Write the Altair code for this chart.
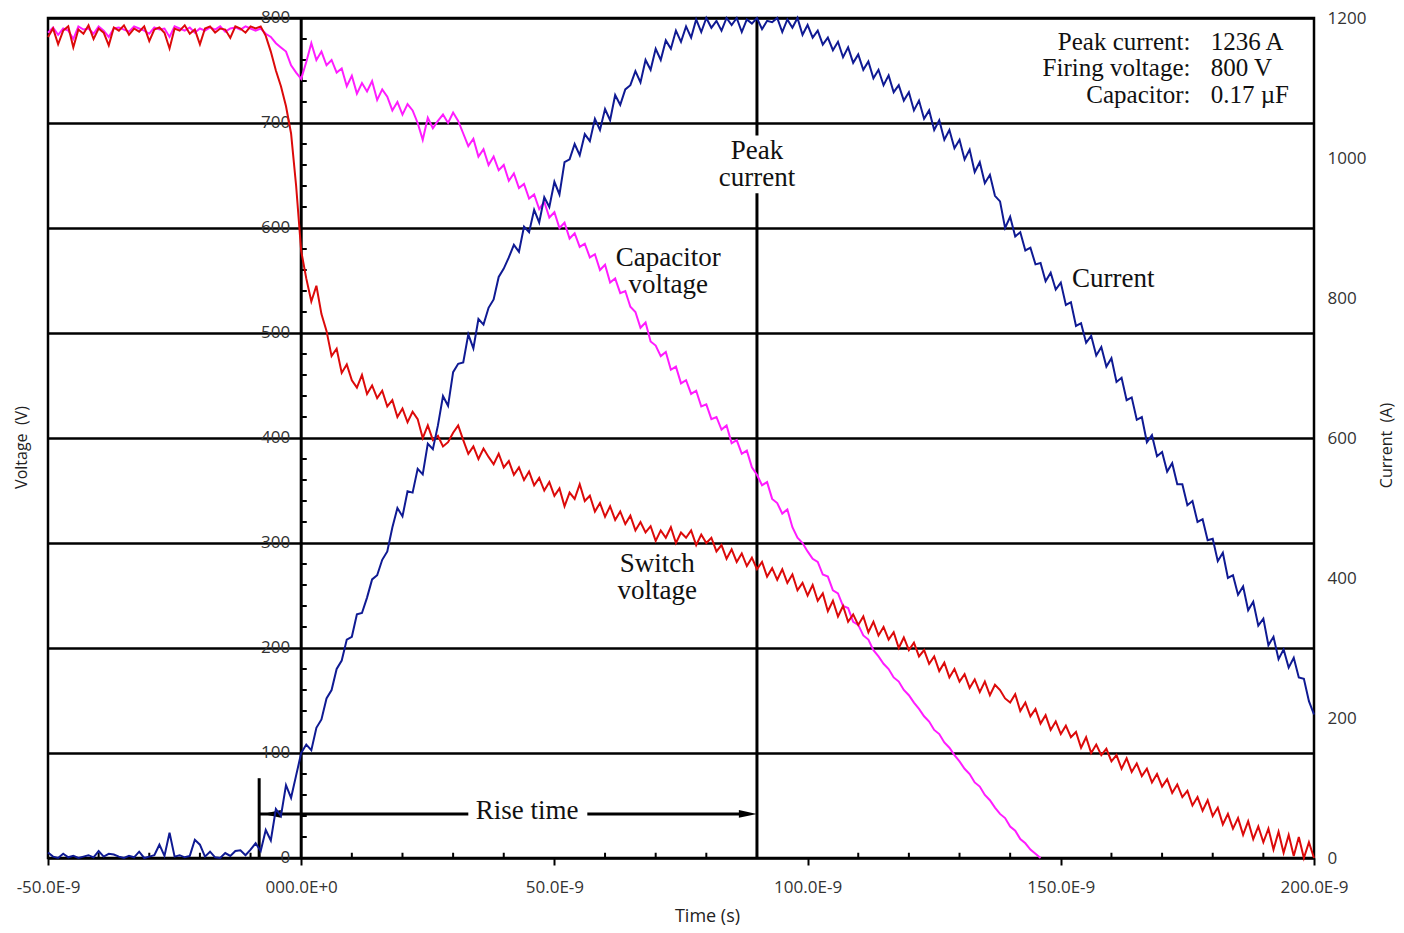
import altair as alt
import pandas as pd

# ---------------- data ----------------
time_ns = list(range(-50, 201))        # sample times, ns
cap_time_ns = list(range(-50, 147))    # capacitor trace ends at ~146 ns

current_A = [
    8, 2, 0, 6, 1, 3, 0, 2, 4, 1,
    10, 2, 6, 5, 2, 0, 3, 1, 9, 0,
    2, 4, 19, 3, 36, 2, 4, 1, 3, 26,
    19, 2, 9, 1, 0, 7, 3, 10, 11, 4,
    12, 21, 10, 40, 25, 70, 60, 104, 86, 118,
    150, 162, 154, 186, 198, 228, 240, 270, 282, 312,
    316, 348, 350, 372, 398, 404, 426, 438, 472, 500,
    488, 524, 522, 556, 548, 592, 584, 618, 660, 646,
    694, 706, 708, 748, 728, 770, 762, 786, 798, 830,
    842, 858, 876, 866, 902, 894, 926, 908, 944, 930,
    966, 948, 994, 998, 1020, 1004, 1034, 1024, 1056, 1040,
    1070, 1054, 1090, 1076, 1098, 1104, 1124, 1108, 1140, 1126,
    1156, 1140, 1168, 1156, 1182, 1166, 1188, 1172, 1198, 1180,
    1200, 1186, 1196, 1182, 1200, 1190, 1200, 1180, 1198, 1192,
    1200, 1184, 1196, 1194, 1200, 1180, 1198, 1186, 1200, 1176,
    1190, 1172, 1182, 1162, 1172, 1154, 1166, 1144, 1158, 1136,
    1148, 1126, 1138, 1114, 1126, 1104, 1118, 1094, 1104, 1082,
    1094, 1068, 1082, 1056, 1068, 1040, 1054, 1026, 1040, 1014,
    1026, 998, 1012, 980, 994, 964, 976, 946, 938, 900,
    916, 888, 894, 868, 872, 848, 850, 824, 836, 812,
    822, 790, 794, 760, 764, 736, 746, 718, 730, 702,
    714, 680, 686, 654, 658, 626, 630, 594, 604, 574,
    580, 552, 564, 534, 534, 504, 510, 480, 484, 454,
    456, 424, 436, 400, 404, 376, 388, 354, 366, 332,
    342, 304, 316, 284, 298, 272, 286, 258, 256, 224,
    205,
]

switch_V = [
    782, 790, 775, 788, 792, 772, 789, 785, 793, 780,
    790, 786, 774, 791, 788, 793, 784, 790, 787, 792,
    778, 789, 791, 786, 771, 790, 788, 793, 785, 789,
    775, 790, 792, 786, 790, 789, 781, 792, 790, 786,
    792, 790, 792, 783, 768, 750, 735, 716, 690, 640,
    578, 552, 530, 545, 518, 502, 478, 485, 462, 470,
    455, 448, 460, 442, 450, 438, 445, 430, 436, 420,
    428, 415, 425, 418, 400, 412, 398, 402, 392, 396,
    405, 412, 398, 385, 392, 380, 390, 382, 375, 385,
    372, 378, 365, 372, 360, 368, 355, 362, 350, 358,
    345, 352, 335, 348, 342, 356, 340, 345, 330, 338,
    325, 335, 322, 330, 318, 326, 312, 320, 310, 316,
    302, 312, 305, 315, 300, 310, 305, 312, 298, 308,
    300, 305, 292, 298, 285, 294, 282, 290, 278, 286,
    275, 282, 268, 276, 265, 275, 262, 270, 255, 262,
    250, 260, 245, 252, 235, 245, 230, 240, 225, 232,
    222, 230, 215, 225, 212, 220, 208, 215, 200, 210,
    198, 205, 192, 198, 185, 192, 178, 186, 172, 180,
    168, 175, 162, 170, 158, 168, 155, 165, 160, 152,
    148, 156, 140, 148, 135, 142, 128, 136, 122, 130,
    118, 126, 115, 120, 105, 115, 100, 108, 98, 104,
    92, 98, 85, 95, 82, 90, 78, 85, 72, 80,
    68, 75, 62, 70, 58, 64, 50, 58, 45, 55,
    40, 48, 32, 42, 28, 38, 22, 35, 18, 30,
    15, 28, 8, 25, 5, 22, 2, 20, 0, 15,
    0,
]

capacitor_V = [
    786, 791, 784, 790, 788, 780, 792, 789, 790, 785,
    792, 788, 782, 790, 791, 789, 787, 792, 790, 788,
    785, 791, 789, 790, 782, 792, 790, 788, 791, 786,
    790, 788, 791, 789, 792, 787, 790, 791, 789, 792,
    790, 788, 790, 785, 782, 776, 772, 768, 755, 748,
    742, 758, 776, 760, 768, 755, 760, 748, 752, 735,
    745, 728, 738, 730, 740, 722, 732, 725, 712, 720,
    708, 718, 712, 700, 684, 705, 695, 702, 708, 700,
    710, 702, 690, 678, 685, 668, 675, 660, 668, 655,
    660, 645, 652, 638, 642, 628, 632, 618, 625, 610,
    615, 600, 605, 590, 595, 582, 585, 572, 575, 560,
    565, 548, 552, 538, 540, 525, 520, 505, 510, 492,
    488, 478, 482, 465, 468, 452, 455, 442, 445, 430,
    432, 418, 420, 408, 412, 395, 398, 385, 388, 372,
    365, 355, 358, 342, 338, 328, 332, 315, 305, 300,
    292, 285, 282, 270, 268, 255, 252, 240, 238, 225,
    222, 212, 208, 198, 192, 185, 180, 172, 168, 160,
    155, 148, 142, 135, 130, 122, 118, 110, 105, 98,
    92, 85, 80, 72, 68, 60, 55, 48, 42, 38,
    30, 26, 18, 14, 8, 4, 0,
]

x_ticks_ns = [-50, 0, 50, 100, 150, 200]
x_minor_ns = [-40, -30, -20, -10, 10, 20, 30, 40, 60, 70, 80, 90,
              110, 120, 130, 140, 160, 170, 180, 190]
volt_ticks = [0, 100, 200, 300, 400, 500, 600, 700, 800]
volt_minor = [20, 40, 60, 80, 120, 140, 160, 180, 220, 240, 260, 280,
              320, 340, 360, 380, 420, 440, 460, 480, 520, 540, 560, 580,
              620, 640, 660, 680, 720, 740, 760, 780]
current_ticks = [0, 200, 400, 600, 800, 1000, 1200]

peak_t = 90.0        # time of peak current, ns
trigger_t = -8.3     # start of rise, ns
rise_v = 42          # height of the rise-time arrow (V scale)

center_labels = ["Peak", "current", "Capacitor", "voltage", "Switch", "voltage", "Rise time"]
center_t = [90, 90, 72.5, 72.5, 70.3, 70.3, 44.6]
center_v = [673, 648, 571, 546, 280, 254, 45]

info_keys = ["Peak current:", "Firing voltage:", "Capacitor:"]
info_vals = ["1236 A", " 800 V", "0.17 \u00b5F"]
info_v = [777, 752, 727]

# ---------------- styling ----------------
SANS = "Open Sans"
SERIF = "Liberation Serif"
BLUE = "#0f1a93"
RED = "#dc0a0a"
MAGENTA = "#ff1cff"


def xs():
    return alt.Scale(domain=[-50, 200], nice=False, zero=False)


def vs():
    return alt.Scale(domain=[0, 800], nice=False, zero=False)


x_axis = alt.Axis(
    values=x_ticks_ns,
    labelExpr=("datum.value == 0 ? '000.0E+0' : (datum.value < 0 ? '-' : '') + "
               "format(abs(datum.value), '.1f') + 'E-9'"),
    grid=False, domain=False, ticks=True, tickSize=7, tickWidth=2, tickColor="black",
    labelFont=SANS, labelFontSize=17, labelColor="#333", labelPadding=14,
    labelFlush=False, labelOverlap=False,
    title="Time (s)", titleFont=SANS, titleFontSize=18, titleFontWeight="normal",
    titleColor="#222", titlePadding=12, titleX=659, titleAlign="center",
)
y_axis_v = alt.Axis(
    values=volt_ticks, grid=True, gridColor="black", gridWidth=2.5, gridOpacity=1,
    labels=False, ticks=False, domain=False,
    title="Voltage\u00a0 (V)", titleFont=SANS, titleFontSize=16, titleFontWeight="normal",
    titleColor="#222", titlePadding=19, titleY=429,
)
y_axis_c = alt.Axis(
    orient="right", values=current_ticks, format="d", grid=False, ticks=False, domain=False,
    labelFont=SANS, labelFontSize=17, labelColor="#333", labelPadding=13,
    labelFlush=False, labelOverlap=False,
    title="Current\u00a0 (A)", titleFont=SANS, titleFontSize=16, titleFontWeight="normal",
    titleColor="#222", titleAngle=270, titleBaseline="top", titlePadding=13, titleY=427,
)


def X(field="t"):
    # same axis definition on every layer so that the shared x axis merges cleanly
    return alt.X(f"{field}:Q", scale=xs(), axis=x_axis)


def YV(field="v"):
    return alt.Y(f"{field}:Q", scale=vs(), axis=None)


# ---------------- layers ----------------
vrule_df = pd.DataFrame({"t": [0, peak_t, trigger_t], "v0": [0, 0, 0], "v1": [800, 800, 76]})
vrules = alt.Chart(vrule_df).mark_rule(color="black", strokeWidth=3).encode(
    x=X(),
    y=alt.Y("v0:Q", scale=vs(), axis=y_axis_v),
    y2="v1:Q",
)

arrow_df = pd.DataFrame({"t0": [trigger_t], "t1": [88.0], "v": [rise_v]})
arrow_rule = alt.Chart(arrow_df).mark_rule(color="black", strokeWidth=3).encode(
    x=X("t0"), x2="t1:Q", y=YV())

vminor_df = pd.DataFrame({"t0": [0.0] * len(volt_minor), "t1": [1.1] * len(volt_minor), "v": volt_minor})
vminor = alt.Chart(vminor_df).mark_rule(color="black", strokeWidth=2).encode(
    x=X("t0"), x2="t1:Q", y=YV())

tminor_df = pd.DataFrame({"t": x_minor_ns, "v0": [0] * len(x_minor_ns), "v1": [5] * len(x_minor_ns)})
tminor = alt.Chart(tminor_df).mark_rule(color="black", strokeWidth=2).encode(
    x=X(), y=YV("v0"), y2="v1:Q")

bg_df = pd.DataFrame({"t0": [81.7, 33.0], "t1": [98.3, 56.5], "v0": [633, 31], "v1": [688, 57]})
backgrounds = alt.Chart(bg_df).mark_rect(color="white").encode(
    x=X("t0"), x2="t1:Q", y=YV("v0"), y2="v1:Q")

head_df = pd.DataFrame({
    "t": [88.2, -5.8], "v": [rise_v, rise_v],
    "shape": ["M -1 -0.42 L 1 0 L -1 0.42 Z", "M 1 -0.42 L -1 0 L 1 0.42 Z"],
})
arrowheads = alt.Chart(head_df).mark_point(
    filled=True, color="black", size=324, opacity=1, strokeWidth=0
).encode(x=X(), y=YV(), shape=alt.Shape("shape:N", scale=None))

vlab_df = pd.DataFrame({"t": [0] * len(volt_ticks), "v": volt_ticks,
                        "label": [str(v) for v in volt_ticks]})
volt_labels = alt.Chart(vlab_df).mark_text(
    align="right", baseline="middle", dx=-11, font=SANS, fontSize=17, color="#333"
).encode(x=X(), y=YV(), text="label:N")

cap_df = pd.DataFrame({"t": cap_time_ns, "v": capacitor_V})
cap_line = alt.Chart(cap_df).mark_line(color=MAGENTA, strokeWidth=2).encode(x=X(), y=YV())

sw_df = pd.DataFrame({"t": time_ns, "v": switch_V})
sw_line = alt.Chart(sw_df).mark_line(color=RED, strokeWidth=2).encode(x=X(), y=YV())

cur_df = pd.DataFrame({"t": time_ns, "i": current_A})
current_line = alt.Chart(cur_df).mark_line(color=BLUE, strokeWidth=2).encode(
    x=X(),
    y=alt.Y("i:Q", scale=alt.Scale(domain=[0, 1200], nice=False, zero=False), axis=y_axis_c),
)

c_df = pd.DataFrame({"t": center_t, "v": center_v, "label": center_labels})
t_center = alt.Chart(c_df).mark_text(
    align="center", baseline="middle", font=SERIF, fontSize=27, color="#111"
).encode(x=X(), y=YV(), text="label:N")

cur_lab_df = pd.DataFrame({"t": [152.2], "v": [551], "label": ["Current"]})
t_current = alt.Chart(cur_lab_df).mark_text(
    align="left", baseline="middle", font=SERIF, fontSize=27, color="#111"
).encode(x=X(), y=YV(), text="label:N")

ik_df = pd.DataFrame({"t": [175.6] * 3, "v": info_v, "label": info_keys})
t_info_k = alt.Chart(ik_df).mark_text(
    align="right", baseline="middle", font=SERIF, fontSize=25, color="#111"
).encode(x=X(), y=YV(), text="label:N")

iv_df = pd.DataFrame({"t": [179.6] * 3, "v": info_v, "label": info_vals})
t_info_v = alt.Chart(iv_df).mark_text(
    align="left", baseline="middle", font=SERIF, fontSize=25, color="#111"
).encode(x=X(), y=YV(), text="label:N")

chart = (
    alt.layer(
        vrules, arrow_rule, vminor, tminor, backgrounds, arrowheads, volt_labels,
        cap_line, sw_line, current_line, t_center, t_current, t_info_k, t_info_v,
    )
    .resolve_scale(y="independent")
    .properties(
        width=1266, height=840,
        autosize=alt.AutoSizeParams(type="none"),
        padding={"left": 40, "top": 10, "right": 82, "bottom": 67},
        background="white",
    )
    .configure_view(stroke="black", strokeWidth=2.5)
)

chart.save("out.html", embed_options={"renderer": "svg", "actions": False})
